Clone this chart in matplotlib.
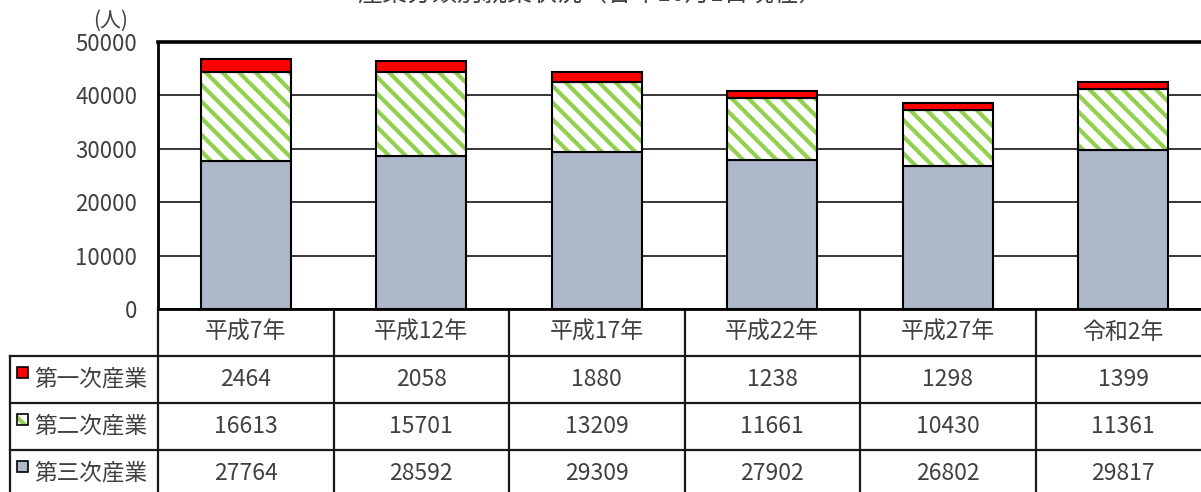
import numpy as np
import matplotlib.pyplot as plt
from matplotlib.patches import Rectangle

years = ['平成7年', '平成12年', '平成17年', '平成22年', '平成27年', '令和2年']
primary = [2464, 2058, 1880, 1238, 1298, 1399]
secondary = [16613, 15701, 13209, 11661, 10430, 11361]
tertiary = [27764, 28592, 29309, 27902, 26802, 29817]
row_names = ['第一次産業', '第二次産業', '第三次産業']
yticks = [0, 10000, 20000, 30000, 40000, 50000]

plt.rcParams['font.family'] = ['Noto Sans CJK JP', 'DejaVu Sans']
plt.rcParams['hatch.linewidth'] = 3.0

RED = '#FF0000'
GREEN = '#92D050'
GRAY = '#ADB9CA'
TXT = '#404040'

# pixel layout of the figure
W, H = 1201, 492
x0, col_w = 158, 175.5
y_top, y_zero = 42, 309
row_h = 47

fig = plt.figure(figsize=(W / 100, H / 100), dpi=100)
ax = fig.add_axes([x0 / W, 1 - y_zero / H, len(years) * col_w / W, (y_zero - y_top) / H])

x = np.arange(len(years))
tert = np.array(tertiary)
sec = np.array(secondary)
prim = np.array(primary)
bw = 0.51

ax.bar(x, tert, bw, color=GRAY, edgecolor='black', lw=1.5, zorder=3)
ax.bar(x, sec, bw, bottom=tert, color='white', edgecolor=GREEN, hatch='\\\\', lw=0, zorder=3)
ax.bar(x, sec, bw, bottom=tert, fill=False, edgecolor='black', lw=1.5, zorder=4)
ax.bar(x, prim, bw, bottom=tert + sec, color=RED, edgecolor='black', lw=1.5, zorder=3)

ax.set_xlim(-0.5, len(years) - 0.5)
ax.set_ylim(0, 50000)
ax.set_xticks([])
ax.set_yticks(yticks)
ax.set_yticklabels([str(v) for v in yticks])
ax.tick_params(axis='y', length=0, pad=15, labelsize=16, labelcolor=TXT)
ax.yaxis.grid(True, color='#262626', lw=1.3, zorder=0)
ax.set_axisbelow(True)
ax.spines['top'].set_linewidth(2.6)
ax.spines['left'].set_linewidth(2)
ax.spines['bottom'].set_linewidth(2)
ax.spines['right'].set_visible(False)

fig.text(111 / W, 1 - 21 / H, '(人)', ha='center', va='center', fontsize=15, color=TXT)
fig.text(590 / W, 1 + 5 / H, '産業分類別就業状況（各年10月1日現在）', ha='center', va='center',
         fontsize=18, color=TXT)

# data table under the chart
tab = fig.add_axes([0, 0, 1, 1], zorder=-1)
tab.set_xlim(0, W)
tab.set_ylim(H, 0)
tab.axis('off')

lc = '#1a1a1a'
for i in range(1, 4):
    y = y_zero + row_h * i
    tab.plot([10, W], [y, y], color=lc, lw=1.6)
tab.plot([10, 10], [y_zero + row_h, H], color=lc, lw=1.6)
for j in range(len(years) + 1):
    xc = x0 + col_w * j
    tab.plot([xc, xc], [y_zero, H], color=lc, lw=1.6)

for j, name in enumerate(years):
    tab.text(x0 + col_w * (j + 0.5), y_zero + row_h * 0.5, name, ha='center', va='center',
             fontsize=16.5, color=TXT)

rows = [primary, secondary, tertiary]
for i, (name, vals) in enumerate(zip(row_names, rows)):
    yc = y_zero + row_h * (i + 1.5)
    tab.text(34, yc, name, ha='left', va='center', fontsize=16.3, color=TXT)
    for j, v in enumerate(vals):
        tab.text(x0 + col_w * (j + 0.5), yc, str(v), ha='center', va='center',
                 fontsize=16.5, color=TXT)

# legend keys
key_y = [y_zero + row_h * (i + 1) + 11 for i in range(3)]
tab.add_patch(Rectangle((17, key_y[0]), 11, 11, facecolor=RED, edgecolor='black', lw=1.2))
tab.add_patch(Rectangle((17, key_y[1]), 11, 11, facecolor='white', edgecolor=GREEN, hatch='\\', lw=0))
tab.add_patch(Rectangle((17, key_y[1]), 11, 11, fill=False, edgecolor='black', lw=1.2))
tab.add_patch(Rectangle((17, key_y[2]), 11, 11, facecolor=GRAY, edgecolor='black', lw=1.2))

fig.savefig('out.png', dpi=100)
